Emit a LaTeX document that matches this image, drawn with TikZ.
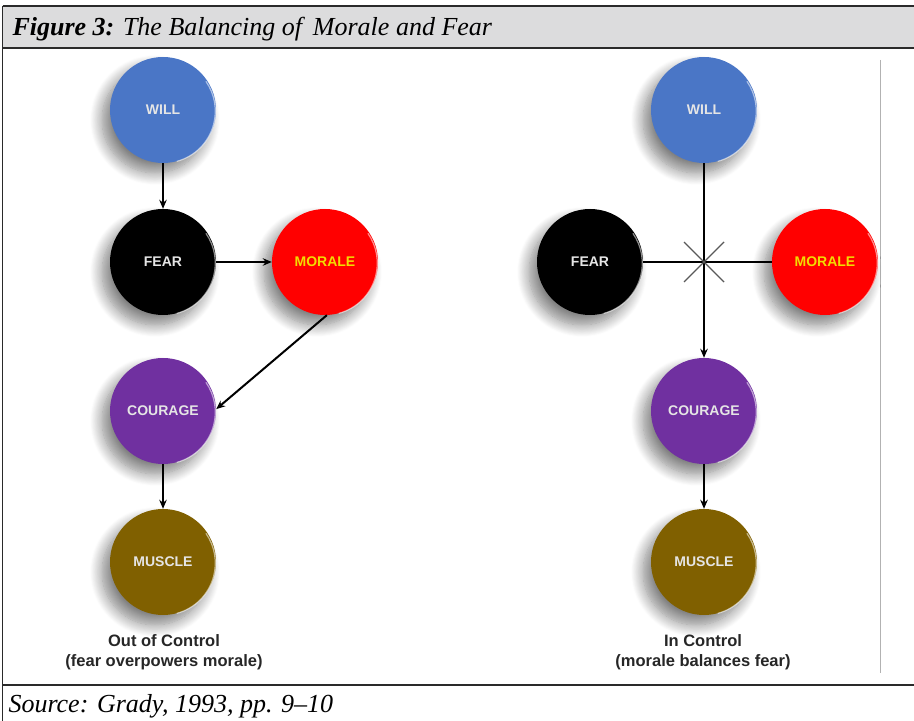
\documentclass[tikz,border=0pt]{standalone}
\usepackage{fontspec}
\setmainfont{Liberation Serif}
\setsansfont{Liberation Sans}
\usetikzlibrary{shadows.blur,arrows.meta}

\definecolor{willblue}{HTML}{4A76C6}
\definecolor{moralered}{HTML}{FF0000}
\definecolor{couragepurple}{HTML}{7030A0}
\definecolor{muscleolive}{HTML}{806000}
\definecolor{moraletext}{HTML}{F2DC00}
\definecolor{headergray}{HTML}{DCDCDD}
\definecolor{framedark}{HTML}{2A2A2A}

\tikzset{
  ball/.style={circle, minimum size=106pt, inner sep=0pt,
    font=\sffamily\bfseries\fontsize{14}{16}\selectfont, text=white!90!black,
    blur shadow={shadow xshift=-8pt, shadow yshift=-10pt,
                 shadow blur radius=12pt, shadow opacity=50, shadow blur steps=14}},
  link/.style={line width=2pt, black},
  arrowlink/.style={link, -{Stealth[length=9pt,width=7.5pt]}},
  caption/.style={font=\sffamily\bfseries\fontsize{16.5}{20}\selectfont,
    align=center, text=black!85},
  rim/.style={white, opacity=0.55, line width=1.2pt},
}

\newcommand{\ballrim}[1]{%
  \draw[rim] (#1.-75) arc[start angle=-75, end angle=35, radius=52pt];}

\begin{document}
\begin{tikzpicture}[x=1pt,y=1pt]
  \useasboundingbox (0,0) rectangle (914,721);

  % frame and title band
  \fill[headergray] (2.5,673) rectangle (914,715);
  \draw[framedark, line width=2pt] (2.5,715) -- (914,715);
  \draw[framedark, line width=2pt] (2.5,673) -- (914,673);
  \draw[framedark, line width=1.2pt] (2.5,715) -- (2.5,0);
  \draw[framedark, line width=2pt] (2.5,36) -- (914,36);
  \draw[black!30, line width=1pt] (880,661) -- (880,48);

  \node[anchor=west, font=\fontsize{26}{28}\selectfont\itshape] (title) at (9,692)
    {\textbf{Figure 3:} The Balancing of\, Morale and Fear};
  \node[anchor=west, font=\fontsize{26}{28}\selectfont\itshape] (source) at (5,15)
    {Source: Grady, 1993, pp. 9--10};

  % left diagram: out of control
  \node[ball, fill=willblue] (lwill) at (163,611) {WILL};
  \node[ball, fill=black] (lfear) at (163,459) {FEAR};
  \node[ball, fill=moralered, text=moraletext] (lmorale) at (325,459) {MORALE};
  \node[ball, fill=couragepurple] (lcourage) at (163,310) {COURAGE};
  \node[ball, fill=muscleolive] (lmuscle) at (163,159) {MUSCLE};
  \foreach \n in {lwill,lfear,lmorale,lcourage,lmuscle} {\ballrim{\n}}

  \draw[arrowlink] (lwill) -- (lfear);
  \draw[arrowlink] (lfear) -- (lmorale);
  \draw[arrowlink] (lmorale.-88) -- (lcourage.2);
  \draw[arrowlink] (lcourage) -- (lmuscle);

  \node[caption] (lcap) at (164,69) {Out of Control\\(fear overpowers morale)};

  % right diagram: in control
  \node[ball, fill=willblue] (rwill) at (704,611) {WILL};
  \node[ball, fill=black] (rfear) at (590,459) {FEAR};
  \node[ball, fill=moralered, text=moraletext] (rmorale) at (825,459) {MORALE};
  \node[ball, fill=couragepurple] (rcourage) at (704,310) {COURAGE};
  \node[ball, fill=muscleolive] (rmuscle) at (704,159) {MUSCLE};
  \foreach \n in {rwill,rfear,rmorale,rcourage,rmuscle} {\ballrim{\n}}

  \coordinate (cross) at (704,459);
  \draw[link] (rfear) -- (rmorale);
  \draw[arrowlink] (rwill) -- (rcourage);
  \draw[black!65, line width=1.4pt] ([shift={(-20,-20)}]cross) -- ([shift={(20,20)}]cross);
  \draw[black!65, line width=1.4pt] ([shift={(-20,20)}]cross) -- ([shift={(20,-20)}]cross);
  \draw[arrowlink] (rcourage) -- (rmuscle);

  \node[caption] (rcap) at (703,69) {In Control\\(morale balances fear)};
\end{tikzpicture}
\end{document}
